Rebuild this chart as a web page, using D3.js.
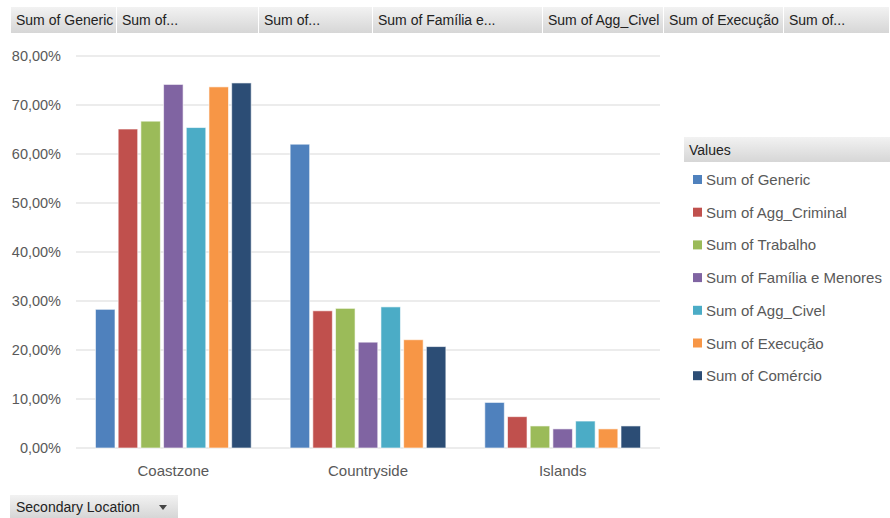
<!DOCTYPE html>
<html>
<head>
<meta charset="utf-8">
<script src="https://cdn.jsdelivr.net/npm/d3@7"></script>
<style>
  body { margin: 0; background: #fff; }
  svg { display: block; }
</style>
</head>
<body>
<div id="chart"></div>
<script>
// data
const locations = ["Coastzone", "Countryside", "Islands"];
const seriesNames = ["Sum of Generic", "Sum of Agg_Criminal", "Sum of Trabalho", "Sum of Família e Menores",
                     "Sum of Agg_Civel", "Sum of Execução", "Sum of Comércio"];
const generic     = [0.283, 0.620, 0.093];
const aggCriminal = [0.651, 0.280, 0.064];
const trabalho    = [0.667, 0.285, 0.045];
const familia     = [0.742, 0.216, 0.039];
const aggCivel    = [0.654, 0.288, 0.055];
const execucao    = [0.737, 0.221, 0.039];
const comercio    = [0.745, 0.207, 0.045];
const yTicks = [0, 0.1, 0.2, 0.3, 0.4, 0.5, 0.6, 0.7, 0.8];
const headerLabels = ["Sum of Generic", "Sum of...", "Sum of...", "Sum of Família e...",
                      "Sum of Agg_Civel", "Sum of Execução", "Sum of..."];
const headerEdges = [11, 117, 259, 373, 543, 664, 784, 890];

const colors = ["#4F81BD", "#C0504D", "#9BBB59", "#8064A2", "#4BACC6", "#F79646", "#2C4D75"];
const seriesVals = [generic, aggCriminal, trabalho, familia, aggCivel, execucao, comercio];

const width = 890, height = 518;
const svg = d3.select("#chart").append("svg")
    .attr("width", width).attr("height", height)
    .style("font-family", "'Liberation Sans', Arial, sans-serif");

const defs = svg.append("defs");
const grad = defs.append("linearGradient").attr("id", "btn").attr("x1", 0).attr("x2", 0).attr("y1", 0).attr("y2", 1);
grad.append("stop").attr("offset", "0%").attr("stop-color", "#f2f2f2");
grad.append("stop").attr("offset", "100%").attr("stop-color", "#d6d6d6");

// header field buttons, text clipped to its button
const header = svg.append("g");
headerLabels.forEach((lab, i) => {
    defs.append("clipPath").attr("id", "hc" + i)
        .append("rect")
            .attr("x", headerEdges[i]).attr("y", 7)
            .attr("width", headerEdges[i + 1] - headerEdges[i] - 1).attr("height", 26);
});
header.selectAll("rect")
    .data(headerLabels)
    .enter().append("rect")
        .attr("x", (d, i) => headerEdges[i])
        .attr("y", 7)
        .attr("width", (d, i) => headerEdges[i + 1] - headerEdges[i] - 1)
        .attr("height", 26)
        .attr("fill", "url(#btn)");
header.selectAll("text")
    .data(headerLabels)
    .enter().append("text")
        .attr("clip-path", (d, i) => `url(#hc${i})`)
        .attr("x", (d, i) => headerEdges[i] + 5)
        .attr("y", 25)
        .attr("font-size", 14)
        .attr("fill", "#222")
        .text(d => d);

// plot
const x0 = d3.scaleBand().domain(locations).range([76, 660]);
const x1 = d3.scaleBand().domain(seriesNames)
    .range([x0.bandwidth() * 0.1, x0.bandwidth() * 0.9]).paddingInner(0.14);
const y = d3.scaleLinear().domain([0, 0.8]).range([448, 56]);

svg.append("g")
    .selectAll("line")
    .data(yTicks)
    .enter().append("line")
        .attr("x1", 76).attr("x2", 660)
        .attr("y1", d => y(d)).attr("y2", d => y(d))
        .attr("stroke", "#d9d9d9").attr("stroke-width", 1);

const fmt = d => d3.format(".2f")(d * 100).replace(".", ",") + "%";
svg.append("g")
    .selectAll("text")
    .data(yTicks)
    .enter().append("text")
        .attr("x", 61)
        .attr("y", d => y(d) + 5)
        .attr("text-anchor", "end")
        .attr("font-size", 14.5)
        .attr("fill", "#595959")
        .text(fmt);

const groups = svg.append("g")
    .selectAll("g")
    .data(locations)
    .enter().append("g")
        .attr("transform", d => `translate(${x0(d)},0)`);

groups.selectAll("rect")
    .data((loc, li) => seriesNames.map((s, si) => ({s: s, v: seriesVals[si][li], c: colors[si]})))
    .enter().append("rect")
        .attr("x", d => x1(d.s))
        .attr("width", x1.bandwidth())
        .attr("y", d => y(d.v))
        .attr("height", d => y(0) - y(d.v))
        .attr("fill", d => d.c)
        .attr("stroke", "#fff")
        .attr("stroke-opacity", 0.6)
        .attr("stroke-width", 1);

svg.append("g")
    .selectAll("text")
    .data(locations)
    .enter().append("text")
        .attr("x", d => x0(d) + x0.bandwidth() / 2)
        .attr("y", 476)
        .attr("text-anchor", "middle")
        .attr("font-size", 15)
        .attr("fill", "#595959")
        .text(d => d);

// legend
const legend = svg.append("g");
legend.append("rect")
    .attr("x", 684).attr("y", 137).attr("width", 206).attr("height", 25)
    .attr("fill", "url(#btn)");
legend.append("text")
    .attr("x", 689).attr("y", 155)
    .attr("font-size", 14).attr("fill", "#222")
    .text("Values");

const items = legend.selectAll("g.item")
    .data(seriesNames)
    .enter().append("g")
        .attr("class", "item")
        .attr("transform", (d, i) => `translate(693,${180 + i * 32.7})`);
items.append("rect")
    .attr("x", 0).attr("y", -5).attr("width", 9).attr("height", 9)
    .attr("fill", (d, i) => colors[i]);
items.append("text")
    .attr("x", 13).attr("y", 5)
    .attr("font-size", 15)
    .attr("fill", "#595959")
    .text(d => d);

// bottom field button
const bottom = svg.append("g");
bottom.append("rect")
    .attr("x", 10).attr("y", 495).attr("width", 168).attr("height", 23)
    .attr("fill", "url(#btn)");
bottom.append("text")
    .attr("x", 16).attr("y", 512)
    .attr("font-size", 14).attr("fill", "#222")
    .text("Secondary Location");
bottom.append("path")
    .attr("d", "M159,505 L167,505 L163,510 Z")
    .attr("fill", "#444");
</script>
</body>
</html>
